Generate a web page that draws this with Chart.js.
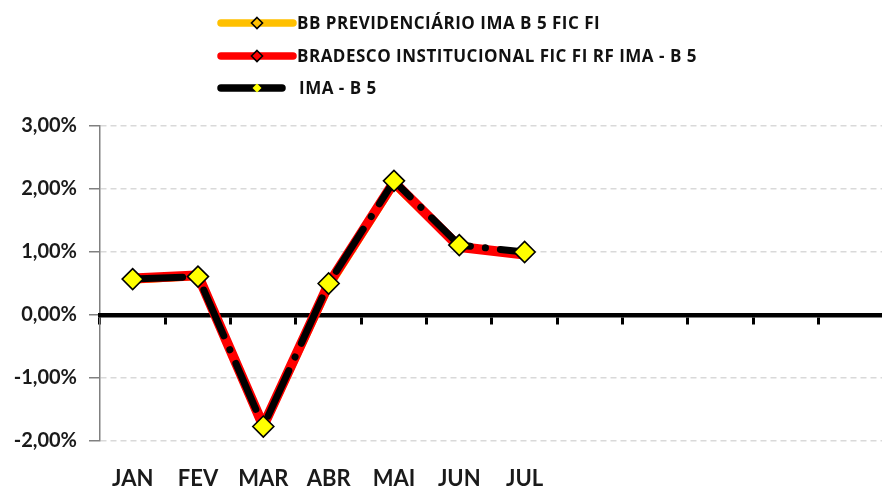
<!DOCTYPE html>
<html>
<head>
<meta charset="utf-8">
<script src="https://cdn.jsdelivr.net/npm/chart.js@4.4.1/dist/chart.umd.min.js"></script>
<style>
  html, body { margin: 0; padding: 0; background: #ffffff; overflow: hidden; }
  #wrap { width: 882px; height: 488px; position: relative; overflow: hidden; }
  #c { display: block; }
</style>
</head>
<body>
<div id="wrap"><canvas id="c" width="896" height="488"></canvas></div>
<script>
const categories = ['JAN', 'FEV', 'MAR', 'ABR', 'MAI', 'JUN', 'JUL', '', '', '', '', ''];
const seriesNames = ['BB PREVIDENCIÁRIO IMA B 5 FIC FI', 'BRADESCO INSTITUCIONAL FIC FI RF IMA - B 5', 'IMA - B 5'];
const bbValues = [0.56, 0.62, -1.78, 0.45, 2.08, 1.08, 0.97];
const bradescoValues = [0.58, 0.63, -1.76, 0.49, 2.11, 1.08, 0.96];
const imaValues = [0.57, 0.61, -1.77, 0.50, 2.13, 1.11, 1.00];
const yTicks = [-2, -1, 0, 1, 2, 3];

const FONT = 'Lato';
const LEGEND_FONT = '"Open Sans"';

const legendPlugin = {
  id: 'customLegend',
  afterDraw(chart) {
    const ctx = chart.ctx;
    const rows = [
      { y: 23, x0: 221, x1: 293, tx: 297 },
      { y: 56, x0: 221, x1: 293, tx: 297 },
      { y: 88, x0: 221, x1: 282, tx: 299 }
    ];
    chart.data.datasets.forEach((ds, i) => {
      const r = rows[i];
      ctx.save();
      ctx.lineCap = 'round';
      ctx.strokeStyle = ds.borderColor;
      ctx.lineWidth = 7.5;
      ctx.beginPath();
      ctx.moveTo(r.x0, r.y);
      ctx.lineTo(r.x1, r.y);
      ctx.stroke();
      const mx = 257, my = r.y, rad = i === 2 ? 4.5 : 5.5;
      ctx.beginPath();
      ctx.moveTo(mx, my - rad);
      ctx.lineTo(mx + rad, my);
      ctx.lineTo(mx, my + rad);
      ctx.lineTo(mx - rad, my);
      ctx.closePath();
      ctx.fillStyle = ds.legendMarkerFill;
      ctx.fill();
      if (i !== 2) {
        ctx.lineWidth = 1.6;
        ctx.strokeStyle = '#000000';
        ctx.stroke();
      }
      ctx.fillStyle = '#111111';
      ctx.font = 'bold 17px ' + LEGEND_FONT;
      if ('letterSpacing' in ctx) ctx.letterSpacing = '0.5px';
      ctx.textBaseline = 'middle';
      ctx.textAlign = 'left';
      ctx.fillText(ds.label, r.tx, r.y + 1);
      ctx.restore();
    });
  }
};

new Chart(document.getElementById('c'), {
  type: 'line',
  data: {
    labels: categories,
    datasets: [
      {
        label: seriesNames[0],
        data: bbValues,
        order: 3,
        borderColor: '#FFC000',
        backgroundColor: '#FFC000',
        legendMarkerFill: '#FFC000',
        borderWidth: 8,
        pointStyle: 'rectRot',
        pointRadius: 5,
        pointBackgroundColor: '#FFC000',
        pointBorderColor: '#000000',
        pointBorderWidth: 1.5,
        tension: 0,
        xAxisID: 'x'
      },
      {
        label: seriesNames[1],
        data: bradescoValues,
        order: 2,
        borderColor: '#FF0000',
        backgroundColor: '#FF0000',
        legendMarkerFill: '#FF0000',
        borderWidth: 10,
        pointStyle: 'rectRot',
        pointRadius: 5,
        pointBackgroundColor: '#FF0000',
        pointBorderColor: '#000000',
        pointBorderWidth: 1.5,
        tension: 0,
        xAxisID: 'x'
      },
      {
        label: seriesNames[2],
        data: imaValues,
        order: 1,
        borderColor: '#000000',
        backgroundColor: '#000000',
        legendMarkerFill: '#FFFF00',
        borderWidth: 7,
        borderDash: [50, 15, 0.1, 15],
        borderCapStyle: 'round',
        pointStyle: 'rectRot',
        pointRadius: 10.5,
        pointBackgroundColor: '#FFFF00',
        pointBorderColor: '#000000',
        pointBorderWidth: 1.6,
        tension: 0,
        xAxisID: 'x'
      }
    ]
  },
  options: {
    responsive: false,
    animation: false,
    devicePixelRatio: 1,
    layout: { padding: { top: 126, left: 0, right: 0, bottom: 0 } },
    plugins: {
      legend: { display: false },
      tooltip: { enabled: false }
    },
    scales: {
      y: {
        min: -2,
        max: 3,
        afterBuildTicks(scale) {
          scale.ticks = yTicks.map(v => ({ value: v }));
        },
        afterFit(scale) { scale.width = 100; },
        ticks: {
          padding: 12,
          color: '#1a1a1a',
          font: { family: FONT, weight: 'bold', size: 20 },
          callback: v => v.toFixed(2).replace('.', ',') + '%'
        },
        grid: {
          color: '#D9D9D9',
          lineWidth: 1.5,
          drawTicks: true,
          tickLength: 11,
          tickColor: '#808080',
          tickWidth: 1.5,
          tickBorderDash: []
        },
        border: { display: true, color: '#808080', width: 1.5, dash: [6, 4] }
      },
      x: {
        type: 'category',
        position: { y: 0 },
        offset: true,
        ticks: { display: false },
        grid: {
          display: true,
          drawOnChartArea: false,
          drawTicks: true,
          tickLength: 7,
          tickColor: '#000000',
          tickWidth: 3,
          offset: true
        },
        border: { display: true, color: '#000000', width: 4.5 }
      },
      x2: {
        type: 'category',
        position: 'bottom',
        labels: categories,
        offset: true,
        afterFit(scale) { scale.height = 47; },
        grid: { display: false, drawTicks: false },
        border: { display: false },
        ticks: {
          padding: 25,
          autoSkip: false,
          maxRotation: 0,
          color: '#1a1a1a',
          font: { family: FONT, weight: 'bold', size: 22 }
        }
      }
    }
  },
  plugins: [legendPlugin]
});
</script>
</body>
</html>
